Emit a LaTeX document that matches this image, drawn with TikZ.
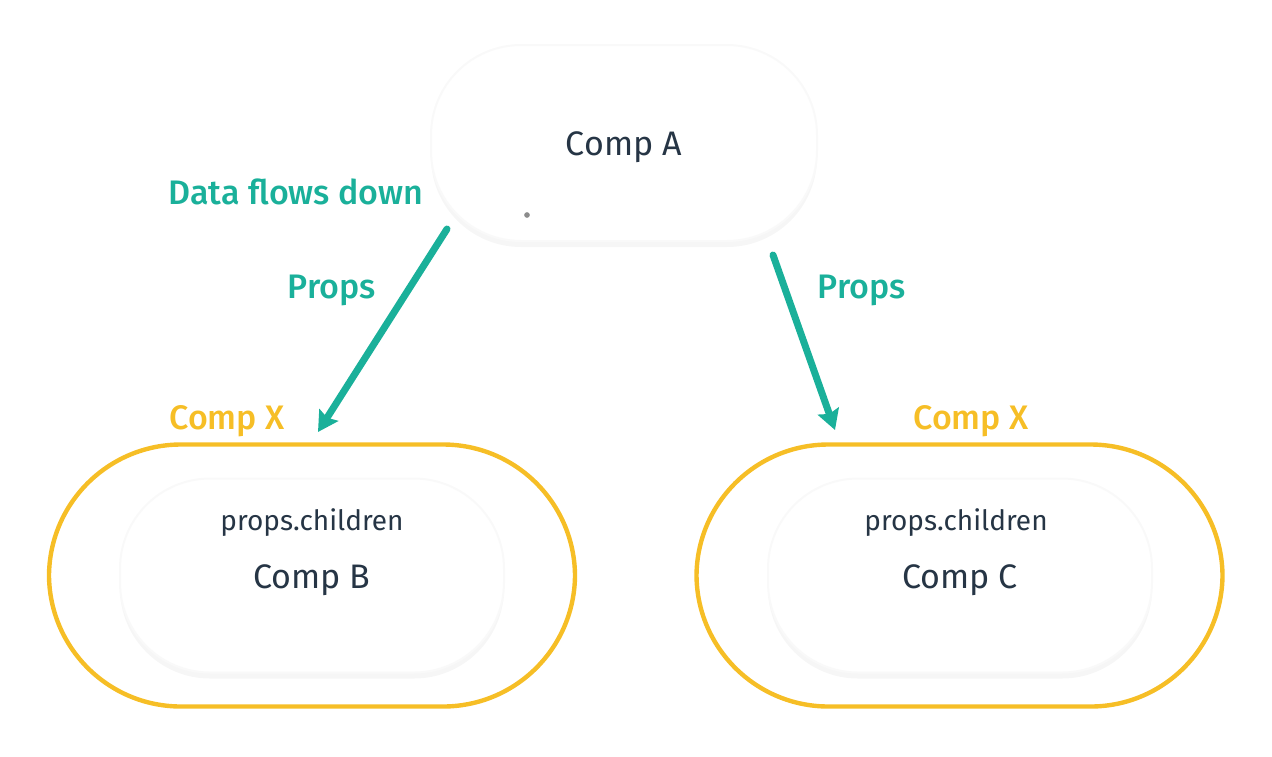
\documentclass[tikz,border=0pt]{standalone}
\usepackage{fontspec}
\setmainfont{Fira Sans}
\newfontfamily\medfont{Fira Sans Medium}
\usepackage{tikz}
\usetikzlibrary{arrows.meta, shadows}

\definecolor{flowgreen}{HTML}{1AB09A}
\definecolor{compyellow}{HTML}{F6BE26}
\definecolor{textdark}{HTML}{263545}

\tikzset{
	compbox/.style={draw=black!2.5, line width=1pt, fill=white, rounded corners=45pt,
		minimum width=192pt, minimum height=97pt,
		drop shadow={shadow xshift=0pt, shadow yshift=-3pt, opacity=0.035, fill=black}},
	wrapbox/.style={draw=compyellow, line width=2.2pt, rounded corners=66pt,
		minimum width=263pt, minimum height=131pt},
	compname/.style={text=textdark, font=\fontsize{17}{20}\selectfont},
	childname/.style={text=textdark, font=\fontsize{14}{16}\selectfont},
	flowlabel/.style={text=flowgreen, font=\medfont\fontsize{17}{20}\selectfont},
	wraplabel/.style={text=compyellow, font=\medfont\fontsize{17}{20}\selectfont},
	flowarrow/.style={draw=flowgreen, line width=3.5pt, line cap=round,
		-{Stealth[length=10pt, width=11pt, inset=1.5pt]}}
}

\begin{document}
\begin{tikzpicture}[x=0.5pt, y=-0.5pt]
\useasboundingbox (0,0) rectangle (1272,756);

% parent
\node[compbox, minimum width=193pt, minimum height=98pt] (boxA) at (624,143) {};
\node[compname] (compA) at (624,147) {Comp A};
\node[circle, fill=black!45, inner sep=1pt] (dot) at (527,215) {};
\node[flowlabel] (flow) at (296,192) {Data flows down};

% wrappers with their children
\node[wrapbox] (wrapB) at (312,575.5) {};
\node[wrapbox] (wrapC) at (959.5,575.5) {};
\node[compbox] (boxB) at (312,575.5) {};
\node[compbox] (boxC) at (960,575.5) {};
\node[childname] (childB) at (312,523) {props.children};
\node[childname] (childC) at (956,523) {props.children};
\node[compname] (compB) at (312,580) {Comp B};
\node[compname] (compC) at (960,580) {Comp C};
\node[wraplabel] (xB) at (227,421) {Comp X};
\node[wraplabel] (xC) at (971,421) {Comp X};

% props going down
\coordinate (startB) at (447,229);
\coordinate (endB) at (318,432);
\coordinate (startC) at (773,255);
\coordinate (endC) at (835,430);
\draw[flowarrow] (startB) -- (endB);
\draw[flowarrow] (startC) -- (endC);
\node[flowlabel] (propsB) at (332,290) {Props};
\node[flowlabel] (propsC) at (862,290) {Props};
\end{tikzpicture}
\end{document}
